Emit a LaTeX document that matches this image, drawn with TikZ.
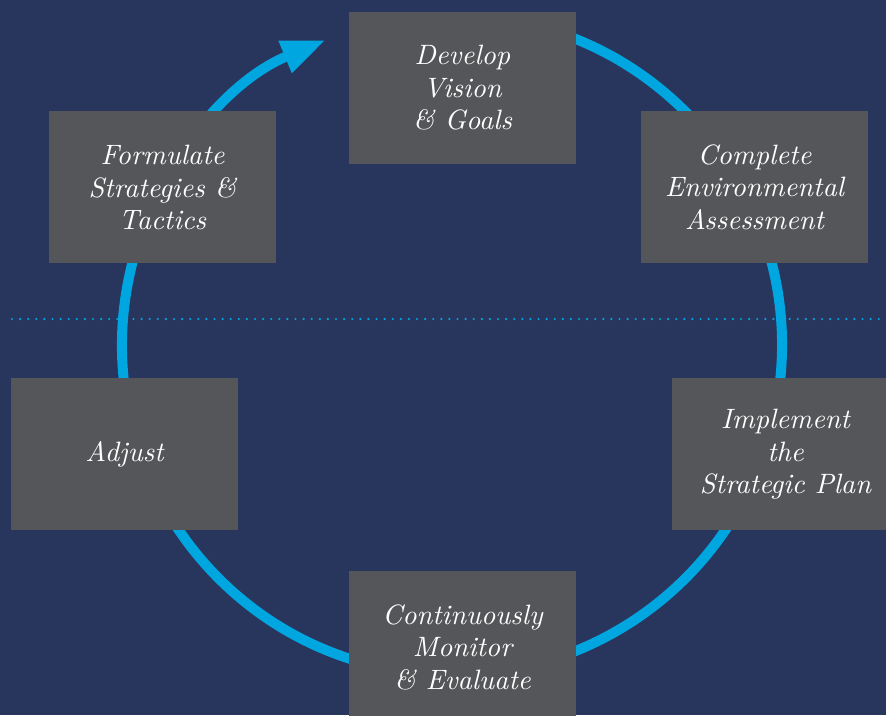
\documentclass[tikz,border=0pt]{standalone}
\usepackage{fontspec}
\usetikzlibrary{arrows.meta}
\newfontfamily\stagefont{lmroman10-italic.otf}
\definecolor{navy}{HTML}{28365E}
\definecolor{boxgray}{HTML}{555659}
\definecolor{ringblue}{HTML}{00A6E0}
\begin{document}
\begin{tikzpicture}[x=1pt,y=1pt]
	\tikzset{st/.style={fill=boxgray, text=white, minimum width=227pt, minimum height=152pt, inner sep=0pt, align=center, font=\stagefont\fontsize{28}{32.5}\selectfont},
		ring/.style={draw=ringblue, line width=10pt, -{Triangle[length=44pt,width=32pt]}},
		dots/.style={draw=ringblue, line width=2.4pt, line cap=round, dash pattern=on 0pt off 8.1pt}};
	\fill[navy] (0,0) rectangle (886,715);
	\useasboundingbox (0,0) rectangle (886,715);
	\clip (0,0) rectangle (886,715);

	\draw[dots] (12,396) -- (886,396);
	\coordinate (c) at (452,370);
	\draw[ring] (c) ++(80:330) arc[start angle=80, end angle=-247.5, radius=330];

	\node[st] (develop) at (462.5,627) {Develop\\Vision\\\& Goals};
	\node[st] (complete) at (754.5,528) {Complete\\Environmental\\Assessment};
	\node[st] (implement) at (785.5,260.5) {Implement\\the\\Strategic Plan};
	\node[st] (monitor) at (462.5,68) {Continuously\\Monitor\\\& Evaluate};
	\node[st] (adjust) at (124.5,260.5) {Adjust};
	\node[st] (formulate) at (162.5,527.5) {Formulate\\Strategies \&\\Tactics};
\end{tikzpicture}
\end{document}
